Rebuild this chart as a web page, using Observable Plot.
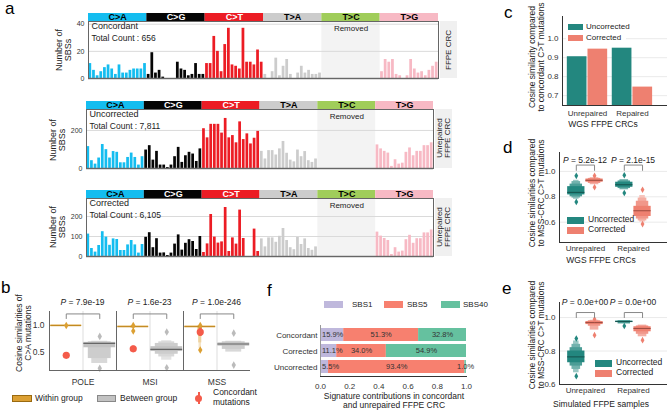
<!DOCTYPE html>
<html><head><meta charset="utf-8">
<script src="https://cdn.jsdelivr.net/npm/d3@7"></script>
<script src="https://cdn.jsdelivr.net/npm/@observablehq/plot@0.6"></script>
<style>
body{margin:0;background:#fff;font-family:"Liberation Sans",Arial,Helvetica,sans-serif;}
#root{position:relative;width:667px;height:410px;overflow:hidden;background:#fff;}
</style></head><body><div id="root"></div>
<script>
// ---------- DATA ----------
// Panel a: SBS96 spectra (16 trinucleotide contexts per substitution type; T>C removed)
const sbsTypes = ["C>A","C>G","C>T","T>A","T>C","T>G"];
const sbsColors = ["#14bdf0","#050505","#ec1c24","#cccccc","#a0cd5a","#f7b9c4"];
const sbsHeaderText = ["#000","#fff","#fff","#000","#000","#000"];
const removedType = 4;
const concordantCounts = [
  11,6,2,5,8,10,7,3,10,4,4,6,7,7,7,11,
  3,19,4,6,1,0,0,0,12,7,6,2,3,11,3,3,
  11,11,31,20,5,25,37,10,9,7,37,12,12,10,21,12,
  3,0,5,15,2,9,14,3,0,4,9,4,6,3,3,4,
  null,null,null,null,null,null,null,null,null,null,null,null,null,null,null,null,
  5,14,12,14,3,2,0,2,14,7,4,5,2,6,9,12];
const uncorrectedCounts = [
  115,41,23,55,126,99,55,89,85,30,30,58,81,58,18,62,
  97,120,44,90,18,18,5,18,62,111,32,67,85,76,37,103,
  209,161,232,232,232,186,263,161,173,135,245,152,182,129,159,195,
  90,50,94,94,71,103,142,80,44,35,97,62,89,41,32,50,
  null,null,null,null,null,null,null,null,null,null,null,null,null,null,null,null,
  124,103,90,81,11,46,23,28,85,108,67,90,90,120,120,135];
const correctedCounts = [
  112,40,22,55,124,97,56,88,85,30,30,58,80,58,17,60,
  96,119,44,89,17,18,5,17,62,108,32,66,84,75,35,100,
  20,63,210,97,67,73,245,25,93,62,232,90,0,0,137,25,
  88,48,93,93,71,101,140,80,44,34,95,60,88,40,31,48,
  null,null,null,null,null,null,null,null,null,null,null,null,null,null,null,null,
  122,102,90,80,10,44,22,27,84,106,66,89,89,118,118,133];

// Panel b
const bGroups = ["POLE","MSI","MSS"];
const bPvals = ["7.9e-19","1.6e-23","1.0e-246"];
const bWithinMedian = [1.0, 0.98, 0.98];
const bWithinLevels = [
  [[0.985,1.01]],
  [[0.97,0.99],[0.955,0.995]],
  [[0.97,0.99],[0.9,0.995],[0.8,0.995],[0.68,0.995],[0.58,0.995]]];
const bWithinOutliers = [[1.0],[1.0,0.9],[1.0,0.55]];
const bBetweenMedian = [0.67, 0.56, 0.66];
const bBetweenLevels = [
  [[0.59,0.69],[0.39,0.70],[0.30,0.71]],
  [[0.52,0.61],[0.47,0.67],[0.42,0.70],[0.36,0.72]],
  [[0.62,0.68],[0.56,0.70],[0.51,0.71]]];
const bBetweenOutliers = [[0.80,0.21],[0.88,0.22],[0.86,0.27]];
const bConcordant = [0.45, 0.57, 0.88];
const bConcordantLo = [0.45, 0.52, 0.80];
const bConcordantHi = [0.45, 0.62, 0.95];

// Panel c
const cGroups = ["Unrepaired","Repaired"];
const cSeries = ["Uncorrected","Corrected"];
const cUncorrected = [0.905, 0.95];
const cCorrected = [0.945, 0.745];

// Panel d
const dPvals = ["5.2e-12","2.1e-15"];
const dMedUncorr = [0.835, 0.895];
const dMedCorr = [0.93, 0.69];
const dLvUncorr = [[[0.815,0.88],[0.80,0.90],[0.79,0.92],[0.78,0.93]], [[0.875,0.915],[0.865,0.925],[0.855,0.935]]];
const dLvCorr = [[[0.915,0.94],[0.905,0.945],[0.895,0.95]], [[0.645,0.725],[0.625,0.765],[0.61,0.79],[0.60,0.81]]];
const dOutUncorr = [[0.965,0.76],[0.97,0.83]];
const dOutCorr = [[0.965,0.875],[0.855,0.585]];

// Panel e
const ePvals = ["0.0e+00","0.0e+00"];
const eMedUncorr = [0.765, 0.976];
const eMedCorr = [0.97, 0.935];
const eLvUncorr = [[[0.73,0.80],[0.71,0.82],[0.69,0.84],[0.67,0.86]], [[0.972,0.979],[0.962,0.981]]];
const eLvCorr = [[[0.958,0.976],[0.948,0.981],[0.925,0.984]], [[0.915,0.945],[0.90,0.95],[0.885,0.955]]];
const eOutUncorr = [[0.875,0.65],[0.95]];
const eOutCorr = [[0.99,0.895],[0.865]];

// Panel f
const fSamples = ["Concordant","Corrected","Uncorrected"];
const fSigs = ["SBS1","SBS5","SBS40"];
const fSigColors = ["#bfb8dc","#f7806f","#65c19f"];
const fSBS1 = [15.9, 11.1, 5.5];
const fSBS5 = [51.3, 34.0, 93.4];
const fSBS40 = [32.8, 54.9, 1.0];

// ---------- HELPERS ----------
const FONT = '"Liberation Sans", Arial, Helvetica, sans-serif';
const TEAL = "#23877f", SALMON = "#ee8070";
const seriesColors = [TEAL, SALMON];
const root = document.getElementById("root");
function put(node, left, top){ const w=document.createElement("div"); w.style.cssText=`position:absolute;left:${left}px;top:${top}px;`; w.appendChild(node); root.appendChild(w); }
function label(html, x, y, o={}){
  const d=document.createElement("div"); d.innerHTML=html;
  d.style.cssText=`position:absolute;left:${x}px;top:${y}px;white-space:pre;line-height:${o.lh||1.15};font-size:${o.size||8}px;color:${o.color||"#222"};text-align:${o.align||"center"};font-family:${FONT};`;
  const tx=o.anchor==="start"?"0":o.anchor==="end"?"-100%":"-50%";
  d.style.transform=`translate(${tx},-50%)`+(o.rotate?` rotate(${o.rotate}deg)`:"");
  root.appendChild(d);
}
function box(x,y,w,h,fill,border){ const d=document.createElement("div"); d.style.cssText=`position:absolute;left:${x}px;top:${y}px;width:${w}px;height:${h}px;background:${fill};${border?`box-sizing:border-box;border:1px solid ${border};`:""}`; root.appendChild(d); }
const style = (fs)=>({fontFamily:FONT,fontSize:fs+"px",color:"#333",background:"none",overflow:"visible"});
const boxenWidths=[1,0.72,0.5,0.32,0.16];
const narrowWidths=[1,0.14,0.12,0.1,0.08];
function boxen(center, levels, maxW, color, widths=boxenWidths){
  return levels.map((lv,k)=>({x1:center-maxW*widths[k]/2, x2:center+maxW*widths[k]/2, y1:lv[0], y2:lv[1], fill:d3.interpolateRgb(color,"#ffffff")(k*0.18)})).reverse();
}

// ---------- PANEL a ----------
function sbsPanel(vals,{left,top,mLeft,width,plotH,ymax,ticks,grid,name,total}){
  const hdrH=8, hdr=ymax*hdrH/plotH;
  const rows=vals.map((v,i)=>({i,v,t:Math.floor(i/16)})).filter(d=>d.v!=null);
  const idx=d3.range(sbsTypes.length);
  const p=Plot.plot({
    width:mLeft+width+30, height:hdrH+plotH+2,
    marginLeft:mLeft, marginRight:30, marginTop:hdrH, marginBottom:2,
    x:{domain:[0,96],axis:null},
    y:{domain:[0,ymax],ticks,tickSize:0,tickPadding:4,label:null},
    color:{type:"identity"},
    style:style(7),
    marks:[
      Plot.rect([removedType],{x1:k=>k*16,x2:k=>(k+1)*16,y1:0,y2:ymax,fill:"#f3f3f3"}),
      Plot.ruleY(grid,{stroke:"#dadada"}),
      Plot.rectY(rows,{x1:"i",x2:d=>d.i+1,y:"v",fill:d=>sbsColors[d.t],insetLeft:0.45,insetRight:0.45}),
      Plot.rect(idx,{x1:k=>k*16,x2:k=>(k+1)*16,y1:ymax,y2:ymax+hdr,fill:k=>sbsColors[k]}),
      Plot.text(idx,{x:k=>k*16+8,y:ymax+hdr/2,text:k=>sbsTypes[k],fill:k=>sbsHeaderText[k],fontWeight:"bold",fontSize:9}),
      Plot.text([removedType],{x:k=>k*16+8,text:()=>"Removed",frameAnchor:"top",dy:4,fontSize:8,fill:"#222"}),
      Plot.text([name],{text:d=>d,frameAnchor:"top-left",dx:3,dy:1,fontSize:9,fill:"#222"}),
      Plot.text([total],{text:d=>d,frameAnchor:"top-left",dx:3,dy:13,fontSize:8.5,fill:"#222"}),
      Plot.ruleY([0],{stroke:"#777",strokeWidth:1.5}),
      Plot.frame({stroke:"#666"})
    ]});
  put(p,left,top);
}
sbsPanel(concordantCounts,{left:0,top:13,mLeft:88,width:350,plotH:57,ymax:42,ticks:[0,20,40],grid:[20,40],name:"Concordant",total:"Total Count : 656"});
sbsPanel(uncorrectedCounts,{left:0,top:101,mLeft:86,width:347,plotH:59,ymax:310,ticks:[0,200],grid:[200],name:"Uncorrected",total:"Total Count : 7,811"});
sbsPanel(correctedCounts,{left:0,top:190,mLeft:86,width:347,plotH:58,ymax:290,ticks:[0,100,200],grid:[100,200],name:"Corrected",total:"Total Count : 6,105"});
// strip labels & y labels
box(440,21,17,57,"#f0f0f0"); label("FFPE CRC",449,50,{rotate:-90,size:8});
box(435,109,17,59,"#f0f0f0"); label("Unrepaired\nFFPE CRC",444,138,{rotate:-90,size:8,lh:1.05});
box(435,198,17,58,"#f0f0f0"); label("Unrepaired\nFFPE CRC",444,227,{rotate:-90,size:8,lh:1.05});
label("Number of\nSBSs",64,50,{rotate:-90,size:9,lh:1.05});
label("Number of\nSBSs",58,140,{rotate:-90,size:9,lh:1.05});
label("Number of\nSBSs",58,227,{rotate:-90,size:9,lh:1.05});

// ---------- PANEL b ----------
(function(){
  const WITHIN="#dca033", BETWEEN="#c2c2c2", RED="#f45b4a";
  let rects=[], meds=[], outs=[];
  bGroups.forEach((g,i)=>{
    const cw=2*i+0.5, cb=2*i+1.5;
    rects.push(...boxen(cw,bWithinLevels[i],0.92,WITHIN,narrowWidths));
    rects.push(...boxen(cb,bBetweenLevels[i],0.95,BETWEEN));
    meds.push({x1:cw-0.46,x2:cw+0.46,y:bWithinMedian[i],c:"#c28a20"});
    meds.push({x1:cb-0.475,x2:cb+0.475,y:bBetweenMedian[i],c:"#666"});
    bWithinOutliers[i].forEach(v=>outs.push({x:cw,y:v,c:WITHIN}));
    bBetweenOutliers[i].forEach(v=>outs.push({x:cb,y:v,c:"#bbb"}));
  });
  const conc=bGroups.map((g,i)=>({x:2*i+0.5,y:bConcordant[i],lo:bConcordantLo[i],hi:bConcordantHi[i]}));
  const brackets=bGroups.flatMap((g,i)=>[[2*i+0.5,1.13],[2*i+0.5,1.215],[2*i+1.5,1.215],[2*i+1.5,1.13]].map(p=>({g,x:p[0],y:p[1]})));
  const p=Plot.plot({
    width:255,height:100,marginLeft:49,marginRight:5,marginTop:26,marginBottom:15,
    x:{domain:[0,6],ticks:[1,3,5],tickFormat:v=>bGroups[(v-1)/2],tickSize:0,tickPadding:8,label:null},
    y:{domain:[0.17,1.26],ticks:[0.5,1.0],tickFormat:".1f",tickSize:0,tickPadding:5,label:null},
    color:{type:"identity"},
    style:style(8.5),
    marks:[
      Plot.ruleX([1,3,5],{stroke:"#dddddd"}),
      Plot.rect(rects,{x1:"x1",x2:"x2",y1:"y1",y2:"y2",fill:"fill"}),
      Plot.ruleY(meds,{x1:"x1",x2:"x2",y:"y",stroke:"c",strokeWidth:1.2}),
      Plot.dot(outs,{x:"x",y:"y",fill:"c",symbol:"diamond",r:2.3}),
      Plot.ruleX(conc,{x:"x",y1:"lo",y2:"hi",stroke:RED,strokeWidth:2.5}),
      Plot.dot(conc,{x:"x",y:"y",fill:RED,r:3.6}),
      Plot.line(brackets,{x:"x",y:"y",z:"g",stroke:"#888",strokeWidth:1}),
      Plot.ruleX([0,2,4],{stroke:"#666"}),
      Plot.ruleY([0.17],{stroke:"#666"})
    ]});
  put(p,0,285);
  bPvals.forEach((v,i)=>label(`<i>P</i> = ${v}`,49+33.5*(2*i+1),303,{size:8.5}));
  label("Cosine similarities of\nC>A mutations",24,333,{rotate:-90,size:8.5,lh:1.1});
  box(12,395,20,7,WITHIN,"#9a6a10"); label("Within group",35,398.5,{anchor:"start",size:8.5});
  box(97,395,19,7,BETWEEN,"#888"); label("Between group",120,398.5,{anchor:"start",size:8.5});
  box(197.5,392,2,12,RED); const dot=document.createElement("div"); dot.style.cssText=`position:absolute;left:195px;top:395px;width:7px;height:7px;border-radius:50%;background:${RED};`; root.appendChild(dot);
  label("Concordant\nmutations",213,398,{anchor:"start",align:"left",size:8.5,lh:1.15});
})();

// ---------- PANEL c ----------
(function(){
  const rows=cGroups.flatMap((g,i)=>[{g:i,s:0,v:cUncorrected[i]},{g:i,s:1,v:cCorrected[i]}]);
  const ymin=0.648;
  const p=Plot.plot({
    width:162,height:113,marginLeft:57,marginRight:0,marginTop:10,marginBottom:14,
    x:{domain:[-0.556,1.78],ticks:[0,1],tickFormat:v=>cGroups[v],tickSize:0,tickPadding:5,label:null,line:true},
    y:{domain:[ymin,1.117],ticks:[0.7,0.8,0.9,1.0],tickFormat:".1f",tickSize:0,tickPadding:4,label:null,grid:true,line:true},
    color:{type:"identity"},
    style:style(8),
    marks:[
      Plot.rectY(rows,{x1:d=>d.g+(d.s-1)*0.46,x2:d=>d.g+d.s*0.46,y1:ymin,y2:"v",fill:d=>seriesColors[d.s],insetLeft:0.5,insetRight:0.5})
    ]});
  put(p,505,6);
  label("Cosine similarity compared\nto concordant C>T mutations",537,57,{rotate:-90,size:8.5,lh:1.1});
  label("WGS FFPE CRCs",603,125,{size:8.5});
  box(566,22,60,24,"#ffffff");
  box(568,24,15,6,TEAL); label("Uncorrected",586,27,{anchor:"start",size:8});
  box(568,35,15,6,SALMON); label("Corrected",586,38,{anchor:"start",size:8});
})();

// ---------- PANELS d & e ----------
function boxenPanel({top,height,mTop,mBottom,ydom,ticks,medU,medC,lvU,lvC,outU,outC,pvals,pY,brY,brLeg,legY,legX,xTitle,xTitleY,yLabY}){
  let rects=[],meds=[],outs=[];
  [0,1].forEach(g=>{
    const cu=g-0.19, cc=g+0.19;
    rects.push(...boxen(cu,lvU[g],0.36,TEAL));
    rects.push(...boxen(cc,lvC[g],0.36,SALMON));
    meds.push({x1:cu-0.18,x2:cu+0.18,y:medU[g],c:"#14514c"});
    meds.push({x1:cc-0.18,x2:cc+0.18,y:medC[g],c:"#9c4a3e"});
    outU[g].forEach(v=>outs.push({x:cu,y:v,c:TEAL}));
    outC[g].forEach(v=>outs.push({x:cc,y:v,c:SALMON}));
  });
  const brackets=[0,1].flatMap(g=>[[g-0.19,brLeg],[g-0.19,brY],[g+0.19,brY],[g+0.19,brLeg]].map(p=>({g,x:p[0],y:p[1]})));
  const p=Plot.plot({
    width:162,height,marginLeft:54,marginRight:0,marginTop:mTop,marginBottom:mBottom,
    x:{domain:[-0.54,1.71],ticks:[0,1],tickFormat:v=>cGroups[v],tickSize:0,tickPadding:3,label:null,line:true},
    y:{domain:ydom,ticks,tickFormat:".1f",tickSize:0,tickPadding:4,label:null,grid:true,line:true},
    color:{type:"identity"},
    style:style(8),
    marks:[
      Plot.rect(rects,{x1:"x1",x2:"x2",y1:"y1",y2:"y2",fill:"fill"}),
      Plot.ruleY(meds,{x1:"x1",x2:"x2",y:"y",stroke:"c",strokeWidth:1}),
      Plot.dot(outs,{x:"x",y:"y",fill:"c",symbol:"diamond",r:2}),
      Plot.line(brackets,{x:"x",y:"y",z:"g",stroke:"#888",strokeWidth:1})
    ]});
  put(p,505,top);
  pvals.forEach((v,i)=>label(`<i>P</i> = ${v}`,[585,633][i],pY,{size:8.5}));
  label("Cosine similarities compared\nto MSS-CRC C>T mutations",537,yLabY,{rotate:-90,size:8.5,lh:1.1});
  label(xTitle,601,xTitleY,{size:8.5,lh:1});
  box(legX,legY-3.5,17,7,TEAL); label("Uncorrected",legX+21,legY,{anchor:"start",size:8.5});
  box(legX,legY+6.5,17,7,SALMON); label("Corrected",legX+21,legY+10,{anchor:"start",size:8.5});
}
boxenPanel({top:140,height:116,mTop:12,mBottom:14,ydom:[0.44,1.149],ticks:[0.6,0.8,1.0],medU:dMedUncorr,medC:dMedCorr,lvU:dLvUncorr,lvC:dLvCorr,outU:dOutUncorr,outC:dOutCorr,pvals:dPvals,pY:161,brY:1.05,brLeg:1.008,legY:220,legX:567,xTitle:"WGS FFPE CRCs",xTitleY:260,yLabY:193});
boxenPanel({top:290,height:108,mTop:12,mBottom:14,ydom:[0.6,1.09],ticks:[0.6,0.8,1.0],medU:eMedUncorr,medC:eMedCorr,lvU:eLvUncorr,lvC:eLvCorr,outU:eOutUncorr,outC:eOutCorr,pvals:ePvals,pY:303,brY:1.03,brLeg:1.0,legY:363,legX:595,xTitle:"Simulated FFPE samples",xTitleY:404,yLabY:335});

// ---------- PANEL f ----------
(function(){
  const vals=[fSBS1,fSBS5,fSBS40];
  const rows=[];
  fSamples.forEach((s,i)=>{ let c=0; fSigs.forEach((g,k)=>{ const v=vals[k][i]/100; rows.push({s,k,v:vals[k][i],x1:c,x2:c+v,mid:c+v/2}); c+=v; }); });
  const first=d=>d.k===0;
  const p=Plot.plot({
    width:216,height:72,marginLeft:62,marginRight:8,marginTop:5,marginBottom:16,
    x:{domain:[0,1],ticks:[0,0.2,0.4,0.6,0.8,1.0],tickFormat:".1f",tickSize:0,tickPadding:7,label:null,line:true},
    y:{domain:fSamples,padding:0.18,tickSize:0,tickPadding:3,label:null},
    color:{type:"identity"},
    style:style(8),
    marks:[
      Plot.barX(rows,{x1:"x1",x2:"x2",y:"s",fill:d=>fSigColors[d.k]}),
      Plot.text(rows.filter(d=>!first(d)),{x:"mid",y:"s",text:d=>d.v.toFixed(1)+"%",fontSize:7.5,fill:"#333"}),
      Plot.text(rows.filter(first),{x:"x1",y:"s",text:d=>d.v.toFixed(1)+"%",fontSize:7.5,fill:"#333",textAnchor:"start",dx:1.5}),
      Plot.ruleX([0],{stroke:"#999"})
    ]});
  put(p,258,320);
  [[324,"SBS1",352],[384,"SBS5",407],[441,"SBS40",463]].forEach(([x,t,tx],k)=>{ box(x,301,19,7,fSigColors[k]); label(t,tx,304.5,{anchor:"start",size:8}); });
  label("Signature contributions in concordant\nand unrepaired FFPE CRC",394,401,{size:8.5,lh:1.1});
})();

// ---------- panel letters ----------
[["a",5,8],["b",1,287],["c",504,12],["d",503,147],["e",502,288],["f",267,290]].forEach(([t,x,y])=>label(t,x,y,{anchor:"start",size:17,color:"#000",lh:1}));
</script></body></html>
